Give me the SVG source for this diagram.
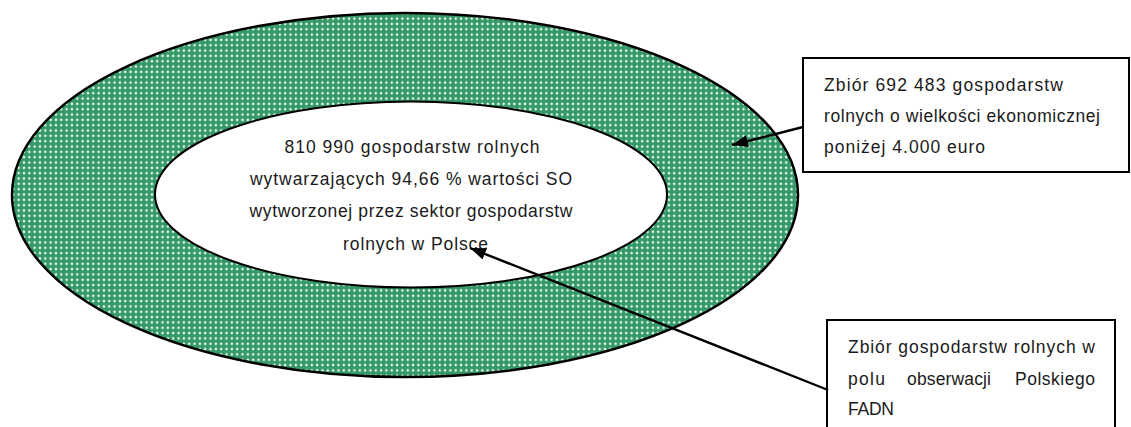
<svg xmlns="http://www.w3.org/2000/svg" width="1131" height="427" viewBox="0 0 1131 427">
  <style>
    .t { font-family: "Liberation Sans", "DejaVu Sans", sans-serif; font-size: 17.5px; fill: #1a1a1a; }
    .box { fill: #ffffff; stroke: #000000; stroke-width: 2; }
    .conn { stroke: #000000; stroke-width: 2.4; fill: none; }
  </style>
  <defs>
    <pattern id="dots" x="0" y="0" width="5.33" height="5.33" patternUnits="userSpaceOnUse">
      <rect width="5.33" height="5.33" fill="#339966"/>
      <circle cx="2.67" cy="2.67" r="1.25" fill="#f2fbf6"/>
    </pattern>
    <marker id="arrow" viewBox="0 0 16 12" refX="16" refY="6" markerWidth="16" markerHeight="12" markerUnits="userSpaceOnUse" orient="auto">
      <path d="M0,0 L16,6 L0,12 z" fill="#000000"/>
    </marker>
  </defs>

  <g id="outer-ring">
    <ellipse cx="405" cy="195" rx="393" ry="182" fill="url(#dots)" stroke="#000000" stroke-width="2.5"/>
  </g>

  <g id="inner-set">
    <ellipse cx="411" cy="194.5" rx="256" ry="93" fill="#ffffff" stroke="#000000" stroke-width="2"/>
    <text class="t" x="412" y="153" text-anchor="middle" textLength="255" lengthAdjust="spacing">810 990 gospodarstw rolnych</text>
    <text class="t" x="411" y="185" text-anchor="middle" textLength="322" lengthAdjust="spacing">wytwarzających 94,66 % wartości SO</text>
    <text class="t" x="411" y="217" text-anchor="middle" textLength="323" lengthAdjust="spacing">wytworzonej przez sektor gospodarstw</text>
    <text class="t" x="343" y="250" textLength="145" lengthAdjust="spacing">rolnych w Polsce</text>
  </g>

  <g id="box-small-farms">
    <rect class="box" x="803" y="58" width="326" height="114"/>
    <text class="t" x="824" y="91" textLength="239" lengthAdjust="spacing">Zbiór 692 483 gospodarstw</text>
    <text class="t" x="824" y="122" textLength="276" lengthAdjust="spacing">rolnych o wielkości ekonomicznej</text>
    <text class="t" x="824" y="153" textLength="161" lengthAdjust="spacing">poniżej 4.000 euro</text>
  </g>

  <g id="box-fadn">
    <rect class="box" x="827" y="320" width="288" height="120"/>
    <text class="t" x="848" y="353" textLength="247" lengthAdjust="spacing">Zbiór gospodarstw rolnych w</text>
    <text class="t" x="848" y="385" textLength="37" lengthAdjust="spacing">polu</text>
    <text class="t" x="907" y="385" textLength="84" lengthAdjust="spacing">obserwacji</text>
    <text class="t" x="1015" y="385" textLength="80" lengthAdjust="spacing">Polskiego</text>
    <text class="t" x="848" y="415" textLength="46" lengthAdjust="spacing">FADN</text>
  </g>

  <g id="connectors">
    <line class="conn" x1="803" y1="127" x2="732" y2="145" marker-end="url(#arrow)"/>
    <line class="conn" x1="828" y1="390" x2="470" y2="248" marker-end="url(#arrow)"/>
  </g>
</svg>
